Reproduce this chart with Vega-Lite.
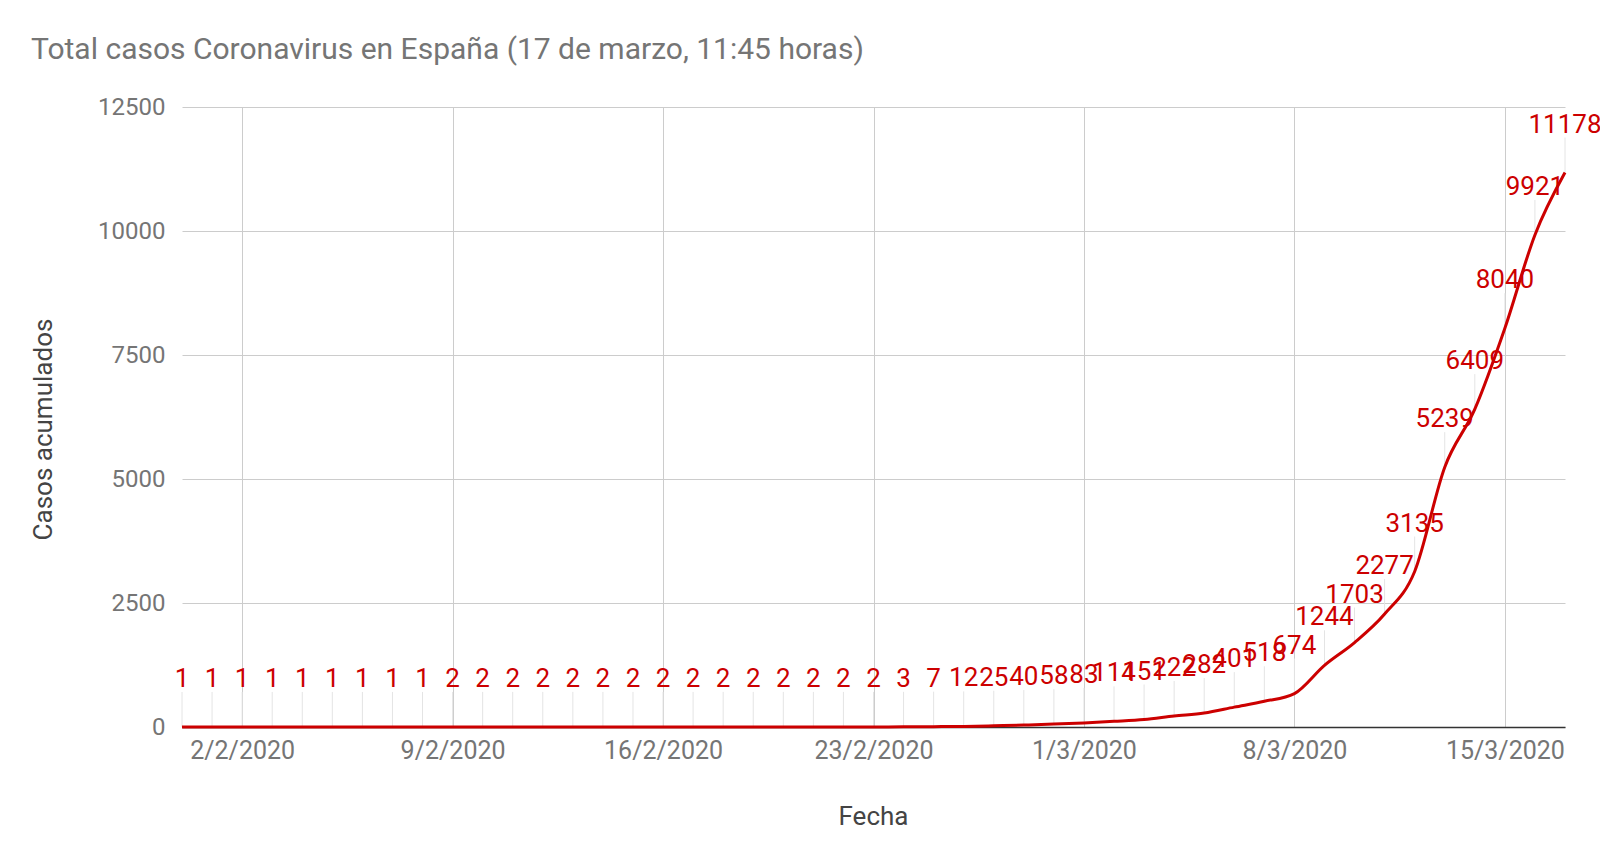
{
  "$schema": "https://vega.github.io/schema/vega-lite/v6.json",
  "width": 1383,
  "height": 620,
  "autosize": {"type": "none"},
  "padding": {"left": 182, "top": 107, "right": 35, "bottom": 130},
  "background": "white",
  "title": {
    "text": "Total casos Coronavirus en España (17 de marzo, 11:45 horas)",
    "anchor": "start",
    "frame": "group",
    "dx": -151,
    "offset": 6,
    "baseline": "alphabetic",
    "font": "Roboto",
    "fontSize": 30,
    "fontWeight": "normal",
    "color": "#757575"
  },
  "config": {
    "view": {"stroke": null},
    "font": "Roboto"
  },
  "data": {
    "values": [
      {"fecha": "2020-01-31", "casos": 1},
      {"fecha": "2020-02-01", "casos": 1},
      {"fecha": "2020-02-02", "casos": 1},
      {"fecha": "2020-02-03", "casos": 1},
      {"fecha": "2020-02-04", "casos": 1},
      {"fecha": "2020-02-05", "casos": 1},
      {"fecha": "2020-02-06", "casos": 1},
      {"fecha": "2020-02-07", "casos": 1},
      {"fecha": "2020-02-08", "casos": 1},
      {"fecha": "2020-02-09", "casos": 2},
      {"fecha": "2020-02-10", "casos": 2},
      {"fecha": "2020-02-11", "casos": 2},
      {"fecha": "2020-02-12", "casos": 2},
      {"fecha": "2020-02-13", "casos": 2},
      {"fecha": "2020-02-14", "casos": 2},
      {"fecha": "2020-02-15", "casos": 2},
      {"fecha": "2020-02-16", "casos": 2},
      {"fecha": "2020-02-17", "casos": 2},
      {"fecha": "2020-02-18", "casos": 2},
      {"fecha": "2020-02-19", "casos": 2},
      {"fecha": "2020-02-20", "casos": 2},
      {"fecha": "2020-02-21", "casos": 2},
      {"fecha": "2020-02-22", "casos": 2},
      {"fecha": "2020-02-23", "casos": 2},
      {"fecha": "2020-02-24", "casos": 3},
      {"fecha": "2020-02-25", "casos": 7},
      {"fecha": "2020-02-26", "casos": 12},
      {"fecha": "2020-02-27", "casos": 25},
      {"fecha": "2020-02-28", "casos": 40},
      {"fecha": "2020-02-29", "casos": 58},
      {"fecha": "2020-03-01", "casos": 83},
      {"fecha": "2020-03-02", "casos": 114},
      {"fecha": "2020-03-03", "casos": 151},
      {"fecha": "2020-03-04", "casos": 222},
      {"fecha": "2020-03-05", "casos": 282},
      {"fecha": "2020-03-06", "casos": 401},
      {"fecha": "2020-03-07", "casos": 518},
      {"fecha": "2020-03-08", "casos": 674},
      {"fecha": "2020-03-09", "casos": 1244},
      {"fecha": "2020-03-10", "casos": 1703},
      {"fecha": "2020-03-11", "casos": 2277},
      {"fecha": "2020-03-12", "casos": 3135},
      {"fecha": "2020-03-13", "casos": 5239},
      {"fecha": "2020-03-14", "casos": 6409},
      {"fecha": "2020-03-15", "casos": 8040},
      {"fecha": "2020-03-16", "casos": 9921},
      {"fecha": "2020-03-17", "casos": 11178}
    ]
  },
  "encoding": {
    "x": {
      "field": "fecha",
      "type": "temporal",
      "scale": {
        "type": "utc",
        "nice": false,
        "domain": [
          {"year": 2020, "month": 1, "date": 31, "utc": true},
          {"year": 2020, "month": 3, "date": 17, "utc": true}
        ]
      },
      "axis": {
        "values": [
          {"year": 2020, "month": 2, "date": 2, "utc": true},
          {"year": 2020, "month": 2, "date": 9, "utc": true},
          {"year": 2020, "month": 2, "date": 16, "utc": true},
          {"year": 2020, "month": 2, "date": 23, "utc": true},
          {"year": 2020, "month": 3, "date": 1, "utc": true},
          {"year": 2020, "month": 3, "date": 8, "utc": true},
          {"year": 2020, "month": 3, "date": 15, "utc": true}
        ],
        "format": "%-d/%-m/%Y",
        "title": "Fecha",
        "titleFont": "Roboto",
        "titleFontSize": 26,
        "titleFontWeight": "normal",
        "titleColor": "#444444",
        "titleX": 691,
        "titleY": 89,
        "titleBaseline": "middle",
        "labelFont": "Roboto",
        "labelFontSize": 25,
        "labelColor": "#757575",
        "labelPadding": 11,
        "labelOverlap": false,
        "labelFlush": false,
        "ticks": false,
        "grid": true,
        "gridColor": "#cccccc",
        "gridWidth": 1,
        "domain": true,
        "domainColor": "#333333",
        "domainWidth": 1.5
      }
    },
    "y": {
      "field": "casos",
      "type": "quantitative",
      "scale": {"domain": [0, 12500], "nice": false},
      "axis": {
        "values": [0, 2500, 5000, 7500, 10000, 12500],
        "format": "d",
        "title": "Casos acumulados",
        "titleFont": "Roboto",
        "titleFontSize": 26,
        "titleFontWeight": "normal",
        "titleColor": "#444444",
        "titleX": -139,
        "titleY": 322,
        "titleAngle": -90,
        "titleAlign": "center",
        "titleBaseline": "middle",
        "labelFont": "Roboto",
        "labelFontSize": 24,
        "labelColor": "#757575",
        "labelPadding": 17,
        "ticks": false,
        "domain": false,
        "grid": true,
        "gridColor": "#cccccc",
        "gridWidth": 1
      }
    }
  },
  "layer": [
    {
      "mark": {"type": "rule", "color": "#e4e4e4", "strokeWidth": 1, "y2Offset": -35},
      "encoding": {
        "y2": {"field": "casos"}
      }
    },
    {
      "mark": {"type": "line", "color": "#cc0000", "strokeWidth": 3, "interpolate": "monotone"}
    },
    {
      "mark": {
        "type": "text",
        "color": "#cc0000",
        "font": "Roboto",
        "fontSize": 26,
        "baseline": "alphabetic",
        "align": "center",
        "dy": -40
      },
      "encoding": {
        "text": {"field": "casos", "type": "quantitative", "format": "d"}
      }
    }
  ]
}
